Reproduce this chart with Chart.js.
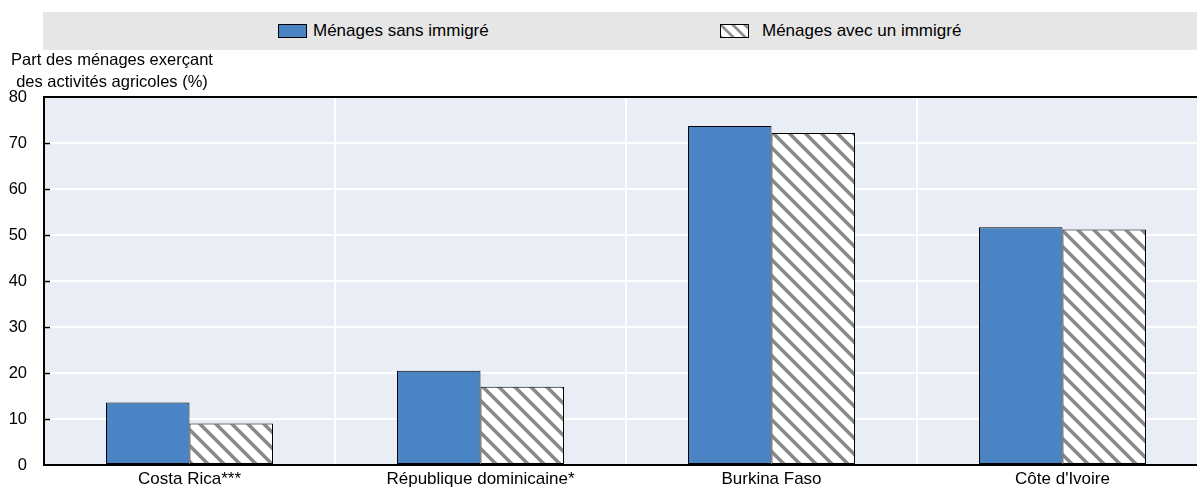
<!DOCTYPE html>
<html>
<head>
<meta charset="utf-8">
<script src="https://cdn.jsdelivr.net/npm/chart.js@4.4.1/dist/chart.umd.min.js"></script>
<style>
  body { margin: 0; background: #fff; overflow: hidden; }
  #wrap { position: relative; width: 1197px; height: 489px; overflow: hidden; font-family: "Liberation Sans", Arial, sans-serif; color: #000; }
  #legend { position: absolute; left: 43px; top: 12px; width: 1154px; height: 38px; background: #e6e6e6; }
  .box { position: absolute; top: 12px; width: 29px; height: 14px; border: 1px solid #000; box-sizing: border-box; }
  .lt { position: absolute; top: 0; line-height: 38px; font-size: 17px; white-space: nowrap; }
  #ytitle { position: absolute; left: 2px; top: 48px; width: 220px; text-align: center; font-size: 16.5px; line-height: 22px; white-space: nowrap; }
  canvas { position: absolute; left: 0; top: 0; }
</style>
</head>
<body>
<div id="wrap">
  <canvas id="c" width="1208" height="489"></canvas>
  <div id="legend">
    <span class="box" id="lb1" style="left:235px"></span><span class="lt" id="lt1" style="left:270px"></span>
    <span class="box" id="lb2" style="left:677px"></span><span class="lt" id="lt2" style="left:719px"></span>
  </div>
  <div id="ytitle"></div>
</div>
<script>
const categories = ["Costa Rica***", "République dominicaine*", "Burkina Faso", "Côte d'Ivoire"];
const seriesNames = ["Ménages sans immigré", "Ménages avec un immigré"];
const sansImmigre = [13.6, 20.5, 73.7, 51.7];
const avecImmigre = [9.0, 17.0, 72.2, 51.2];
const yTicks = [0, 10, 20, 30, 40, 50, 60, 70, 80];
const yTitle = ["Part des ménages exerçant", "des activités agricoles (%)"];

const FONT = '"Liberation Sans", Arial, sans-serif';
const BLUE = '#4a84c4';

function hatchTile() {
  const s = 16;
  const c = document.createElement('canvas');
  c.width = s; c.height = s;
  const g = c.getContext('2d');
  g.fillStyle = '#ffffff';
  g.fillRect(0, 0, s, s);
  g.strokeStyle = '#8a8a8a';
  g.lineWidth = 3.6;
  g.beginPath();
  for (let k = -1; k <= 1; k++) {
    g.moveTo(k * s - 1, -1);
    g.lineTo(k * s + s + 1, s + 1);
  }
  g.stroke();
  return c;
}
const tile = hatchTile();
const hatch = document.getElementById('c').getContext('2d').createPattern(tile, 'repeat');

document.getElementById('lb1').style.background = BLUE;
document.getElementById('lb2').style.backgroundImage = 'url(' + tile.toDataURL() + ')';
document.getElementById('lb2').style.backgroundSize = '12px 12px';
document.getElementById('lt1').textContent = seriesNames[0];
document.getElementById('lt2').textContent = seriesNames[1];
document.getElementById('ytitle').innerHTML = yTitle.join('<br>');

const bgPlugin = {
  id: 'bg',
  beforeDraw(chart) {
    const { ctx, chartArea: a } = chart;
    ctx.save();
    ctx.fillStyle = '#e9edf5';
    ctx.fillRect(a.left, a.top, a.right - a.left, a.bottom - a.top);
    ctx.restore();
  },
  afterDraw(chart) {
    const { ctx, chartArea: a } = chart;
    const y = chart.scales.y;
    ctx.save();
    ctx.strokeStyle = '#000';
    ctx.lineWidth = 1.5;
    yTicks.forEach(v => {
      if (v === 0 || v === 80) return;
      const py = Math.round(y.getPixelForValue(v)) + 0.5;
      ctx.beginPath();
      ctx.moveTo(a.left, py);
      ctx.lineTo(a.left + 6, py);
      ctx.stroke();
    });
    ctx.restore();
  }
};

new Chart(document.getElementById('c'), {
  type: 'bar',
  data: {
    labels: categories,
    datasets: [
      { label: seriesNames[0], data: sansImmigre, backgroundColor: BLUE, borderColor: '#000', borderWidth: 1, borderSkipped: false },
      { label: seriesNames[1], data: avecImmigre, backgroundColor: hatch, borderColor: '#000', borderWidth: 1, borderSkipped: false }
    ]
  },
  options: {
    responsive: false,
    animation: false,
    devicePixelRatio: 1,
    layout: { padding: { top: 97, right: 0, left: 0, bottom: 0 } },
    datasets: { bar: { categoryPercentage: 0.574, barPercentage: 1.0 } },
    plugins: { legend: { display: false }, tooltip: { enabled: false }, title: { display: false } },
    scales: {
      x: {
        offset: true,
        grid: { display: true, offset: true, color: '#ffffff', lineWidth: 2, drawTicks: false },
        border: { display: true, color: '#000', width: 2 },
        ticks: { color: '#000', font: { family: FONT, size: 17 }, padding: 4, maxRotation: 0, autoSkip: false },
        afterFit(s) { s.height = 24; }
      },
      y: {
        min: 0, max: 80,
        afterBuildTicks(s) { s.ticks = yTicks.map(v => ({ value: v })); },
        grid: {
          color: c => (c.tick && c.tick.value === 80) ? '#000' : '#ffffff',
          lineWidth: 2,
          drawTicks: false
        },
        border: { display: true, color: '#000', width: 2 },
        ticks: { color: '#000', font: { family: FONT, size: 16.5 }, padding: 17 },
        afterFit(s) { s.width = 44; s.paddingTop = 0; s.paddingBottom = 0; }
      }
    }
  },
  plugins: [bgPlugin]
});
</script>
</body>
</html>
